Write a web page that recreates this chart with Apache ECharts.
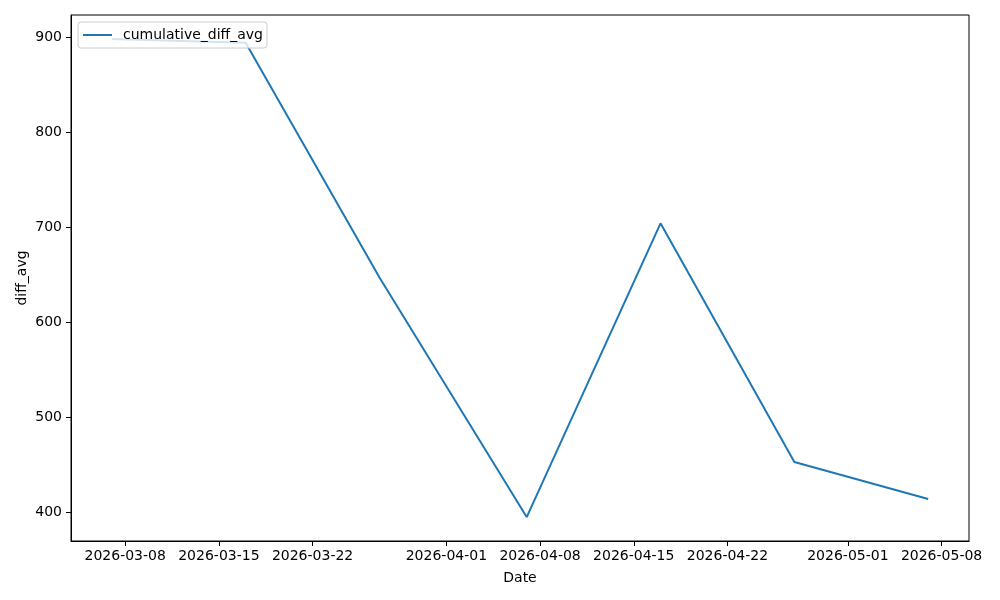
<!DOCTYPE html>
<html>
<head>
<meta charset="utf-8">
<script src="https://cdn.jsdelivr.net/npm/echarts@6/dist/echarts.min.js"></script>
<style>html,body{margin:0;padding:0;background:#fff}#c{width:1000px;height:600px}</style>
</head>
<body>
<div id="c"></div>
<script>
var dates = ['2026-03-07','2026-03-17','2026-03-27','2026-04-07','2026-04-17','2026-04-27','2026-05-07'];
var values = [898, 894, 647, 395, 704, 453, 414];
var xTickLabels = ['2026-03-08','2026-03-15','2026-03-22','2026-04-01','2026-04-08','2026-04-15','2026-04-22','2026-05-01','2026-05-08'];
var yTicks = [400, 500, 600, 700, 800, 900];
var seriesName = 'cumulative_diff_avg';

function ts(s){ var p = s.split('-'); return Date.UTC(+p[0], +p[1]-1, +p[2]); }
function fmt(t){ var d = new Date(t); function z(n){return (n<10?'0':'')+n;} return d.getUTCFullYear()+'-'+z(d.getUTCMonth()+1)+'-'+z(d.getUTCDate()); }

var xs = dates.map(ts);
var xmin0 = Math.min.apply(null, xs), xmax0 = Math.max.apply(null, xs);
var xr = xmax0 - xmin0;
var ymin0 = Math.min.apply(null, values), ymax0 = Math.max.apply(null, values);
var yr = ymax0 - ymin0;
var xTickVals = xTickLabels.map(ts);
var font = 'DejaVu Sans';

var chart = echarts.init(document.getElementById('c'), null, {renderer:'canvas'});
chart.setOption({
  animation: false,
  backgroundColor: '#fff',
  grid: {left: 71, right: 31, top: 15, bottom: 59, show: true, borderColor: '#000', borderWidth: 1, backgroundColor: 'transparent'},
  legend: {
    left: 78, top: 22, orient: 'vertical',
    data: [{name: seriesName, icon: 'rect'}],
    itemWidth: 29, itemHeight: 2, itemGap: 4,
    padding: [6, 4, 6, 5],
    backgroundColor: 'rgba(255,255,255,0.8)',
    borderColor: '#cccccc', borderWidth: 1, borderRadius: 3,
    textStyle: {fontFamily: font, fontSize: 14, color: '#000', padding: [0,0,0,6]}
  },
  xAxis: {
    type: 'value',
    min: xmin0 - 0.05*xr, max: xmax0 + 0.05*xr,
    name: 'Date', nameLocation: 'middle', nameGap: 30,
    nameTextStyle: {fontFamily: font, fontSize: 14, color: '#000'},
    axisLine: {show: true, lineStyle: {color: '#000', width: 1}},
    axisTick: {show: true, length: 5, lineStyle: {color: '#000'}, customValues: xTickVals},
    axisLabel: {fontFamily: font, fontSize: 14, color: '#000', margin: 8, customValues: xTickVals, formatter: function(v){return fmt(v);}},
    splitLine: {show: false}
  },
  yAxis: {
    type: 'value',
    min: ymin0 - 0.05*yr, max: ymax0 + 0.05*yr,
    name: 'diff_avg', nameLocation: 'middle', nameGap: 42, nameMoveOverlap: false,
    nameTextStyle: {fontFamily: font, fontSize: 14, color: '#000'},
    axisLine: {show: true, lineStyle: {color: '#000', width: 1}},
    axisTick: {show: true, length: 5, lineStyle: {color: '#000'}, customValues: yTicks},
    axisLabel: {fontFamily: font, fontSize: 14, color: '#000', margin: 9, customValues: yTicks},
    splitLine: {show: false}
  },
  series: [{
    name: seriesName, type: 'line',
    data: xs.map(function(x,i){return [x, values[i]];}),
    showSymbol: false, symbol: 'none',
    lineStyle: {color: '#1f77b4', width: 2},
    itemStyle: {color: '#1f77b4'},
    z: 2
  }]
});
</script>
</body>
</html>
